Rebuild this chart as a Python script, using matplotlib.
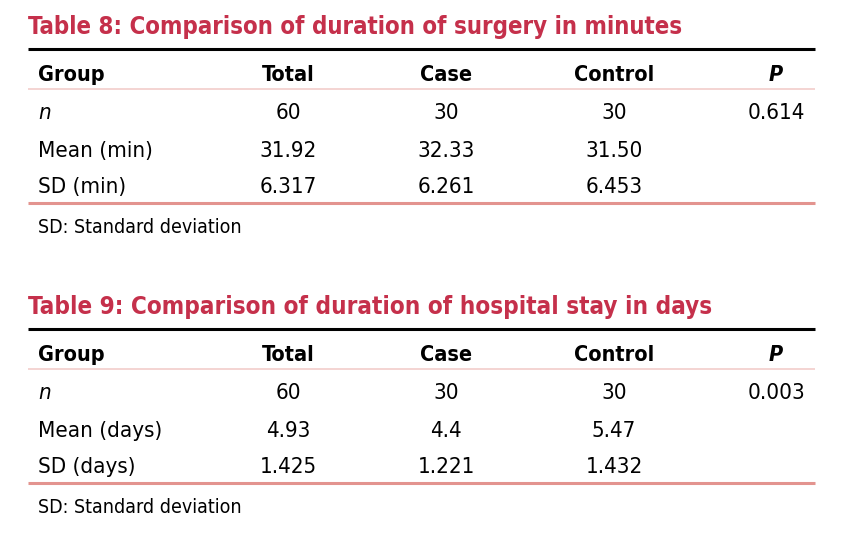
import matplotlib
matplotlib.use("Agg")
import matplotlib.pyplot as plt
from matplotlib.lines import Line2D

plt.rcParams['font.family'] = ['DejaVu Sans']
plt.rcParams['font.stretch'] = 'condensed'

W, H = 846, 537

# table data
headers = ["Group", "Total", "Case", "Control", "P"]

t8_title = "Table 8: Comparison of duration of surgery in minutes"
t8_rows = ["n", "Mean (min)", "SD (min)"]
t8_total = ["60", "31.92", "6.317"]
t8_case = ["30", "32.33", "6.261"]
t8_control = ["30", "31.50", "6.453"]
t8_p = ["0.614", "", ""]

t9_title = "Table 9: Comparison of duration of hospital stay in days"
t9_rows = ["n", "Mean (days)", "SD (days)"]
t9_total = ["60", "4.93", "1.425"]
t9_case = ["30", "4.4", "1.221"]
t9_control = ["30", "5.47", "1.432"]
t9_p = ["0.003", "", ""]

footnote = "SD: Standard deviation"

red = "#c5304b"
pink_thin = "#f2cdcb"
pink_thick = "#e3948f"

fig = plt.figure(figsize=(W / 100, H / 100), dpi=100)
fig.patch.set_facecolor("white")
renderer = fig.canvas.get_renderer()


def fy(y):
    return 1 - y / H


def fx(x):
    return x / W


def fit(t, width):
    # scale font so the text is about as wide as in the reference
    w = t.get_window_extent(renderer).width
    t.set_fontsize(t.get_fontsize() * width / w)


def hline(y, color, lw):
    fig.add_artist(Line2D([fx(28), fx(815)], [fy(y), fy(y)], color=color, lw=lw,
                          transform=fig.transFigure, solid_capstyle="butt"))


col_x = [38, 288, 446, 614, 776]
title_w = [655, 682]


def draw_table(top, title, tw, rows, total, case, control, p):
    t = fig.text(fx(28), fy(top + 23), title, color=red, fontsize=18, fontweight="bold",
                 va="baseline", ha="left")
    fit(t, tw)
    hline(top + 38, "black", 2.2)
    # header
    for i, h in enumerate(headers):
        style = "italic" if h == "P" else "normal"
        fig.text(fx(col_x[i]), fy(top + 70), h, fontsize=15.5, fontweight="bold",
                 fontstyle=style, ha="left" if i == 0 else "center", va="baseline")
    hline(top + 78, pink_thin, 1.2)
    row_y = [top + 108, top + 146, top + 182]
    for r in range(len(rows)):
        style = "italic" if rows[r] == "n" else "normal"
        fig.text(fx(col_x[0]), fy(row_y[r]), rows[r], fontsize=16, fontstyle=style,
                 ha="left", va="baseline")
        for i, col in enumerate([total, case, control, p], start=1):
            fig.text(fx(col_x[i]), fy(row_y[r]), col[r], fontsize=16,
                     ha="center", va="baseline")
    hline(top + 192, pink_thick, 2.2)
    fig.text(fx(col_x[0]), fy(top + 222), footnote, fontsize=14, ha="left", va="baseline")


draw_table(11, t8_title, title_w[0], t8_rows, t8_total, t8_case, t8_control, t8_p)
draw_table(291, t9_title, title_w[1], t9_rows, t9_total, t9_case, t9_control, t9_p)

fig.savefig("out.png", dpi=100, facecolor="white")
